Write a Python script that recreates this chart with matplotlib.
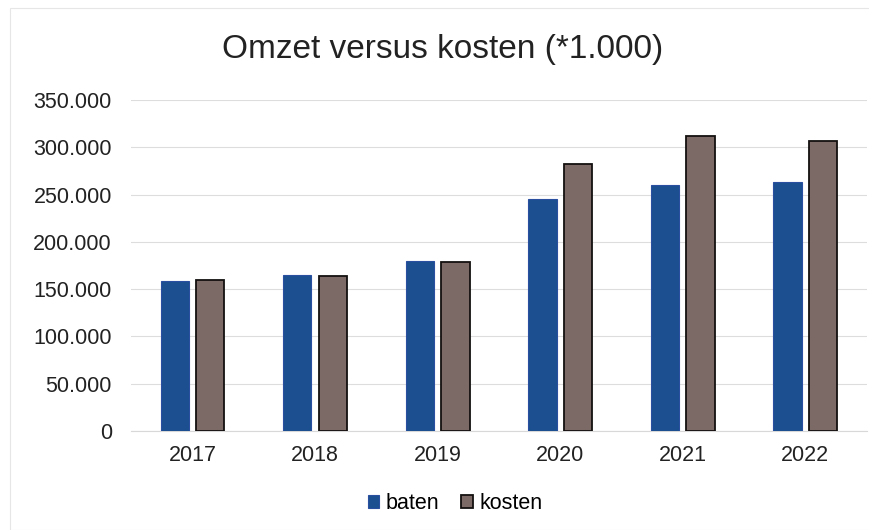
import matplotlib.pyplot as plt
import numpy as np
from matplotlib.patches import Rectangle

jaren = ['2017', '2018', '2019', '2020', '2021', '2022']
baten = [159000, 165500, 179500, 245500, 260000, 263500]
kosten = [160000, 164000, 179000, 282000, 312500, 306500]
y_ticks = [0, 50000, 100000, 150000, 200000, 250000, 300000, 350000]

plt.rcParams['font.family'] = ['Liberation Sans', 'DejaVu Sans']

fig = plt.figure(figsize=(8.7, 5.3), dpi=100)
ax = fig.add_axes([0.151, 0.187, 0.845, 0.624])

x = np.arange(len(jaren))
breedte = 0.23
ax.bar(x - 0.145, baten, breedte, color='#1b4f8f', edgecolor='#2a4fa0', linewidth=0.8, label='baten', zorder=3)
ax.bar(x + 0.145, kosten, breedte, color='#7b6a66', edgecolor='#141010', linewidth=1.3, label='kosten', zorder=3)

ax.set_xlim(-0.5, len(jaren) - 0.5)
ax.set_ylim(0, 350000)
ax.set_yticks(y_ticks)
ax.set_yticklabels(['0' if v == 0 else f'{v // 1000}.000' for v in y_ticks])
ax.set_xticks(x)
ax.set_xticklabels(jaren)
ax.tick_params(axis='both', length=0, labelsize=15.5, colors='#222222')
ax.tick_params(axis='x', pad=10)
ax.tick_params(axis='y', pad=14)
ax.grid(axis='y', color='#dddddd', linewidth=0.8, zorder=0)
for s in ['top', 'right', 'left']:
    ax.spines[s].set_visible(False)
ax.spines['bottom'].set_color('#d8d8d8')

fig.text(0.509, 0.906, 'Omzet versus kosten (*1.000)', ha='center', va='center', fontsize=24, color='#222222')

fig.legend(loc='center', bbox_to_anchor=(0.523, 0.05), ncol=2, frameon=False, fontsize=15.5,
           handlelength=0.55, handleheight=0.55, handletextpad=0.3, columnspacing=1.0)

# lichte rand van de scan
fig.patches.append(Rectangle((0.012, 0.0), 0.99, 0.985, transform=fig.transFigure,
                             fill=False, edgecolor='#e6e6e6', linewidth=0.8))

fig.savefig('out.png', dpi=100, facecolor='white')
